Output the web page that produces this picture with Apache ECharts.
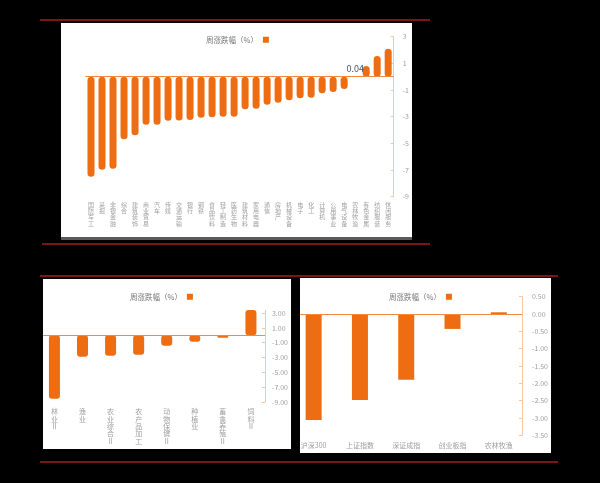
<!DOCTYPE html>
<html>
<head>
<meta charset="utf-8">
<script src="https://cdn.jsdelivr.net/npm/echarts@6/dist/echarts.min.js"></script>
<style>
  html, body { margin: 0; padding: 0; background: #000; }
  #page { position: relative; width: 600px; height: 483px; background: #000; overflow: hidden; }
  .rule { position: absolute; height: 2px; background: #7a1616; }
  .panel { position: absolute; background: #fff; overflow: hidden; }
  .chart { position: absolute; top: 0; }
</style>
</head>
<body>
<div id="page">
  <div class="rule" style="left:40px; top:19px; width:390px;"></div>
  <div class="panel" style="left:61px; top:23px; width:351px; height:214px; border-bottom:3px solid #5a5a5a;">
    <div id="c1" class="chart" style="left:0; width:351px; height:214px;"></div>
  </div>
  <div class="rule" style="left:42px; top:243px; width:388px;"></div>

  <div class="rule" style="left:40px; top:275px; width:518px;"></div>
  <div class="panel" style="left:43px; top:279px; width:248px; height:170px;">
    <div id="c2" class="chart" style="left:-10px; width:258px; height:170px;"></div>
  </div>
  <div class="panel" style="left:300px; top:278px; width:251px; height:175px;">
    <div id="c3" class="chart" style="left:-12px; width:263px; height:175px;"></div>
  </div>
  <div class="rule" style="left:40px; top:461px; width:518px;"></div>
</div>
<script>
// ---------- data ----------
const legendName = '周涨跌幅（%）';

const industryNames = ['休闲服务','纺织服装','有色金属','农林牧渔','电气设备','公用事业','计算机','化工','电子','机械设备','房地产','通信','家用电器','建筑材料','医药生物','轻工制造','食品饮料','钢铁','银行','交通运输','传媒','汽车','商业贸易','建筑装饰','综合','非银金融','采掘','国防军工'];
const industryValues = [2.1, 1.55, 0.8, 0.04, -0.92, -1.15, -1.25, -1.57, -1.62, -1.77, -1.95, -2.1, -2.4, -2.45, -3.0, -3.0, -3.05, -3.07, -3.25, -3.28, -3.3, -3.6, -3.6, -4.4, -4.7, -6.9, -6.97, -7.5];
const highlightName = '农林牧渔';
const industryTicks = [-9, -7, -5, -3, -1, 1, 3];

const subNames = ['饲料Ⅱ','畜禽养殖Ⅱ','种植业','动物保健Ⅱ','农产品加工','农业综合Ⅱ','渔业','林业Ⅱ'];
const subValues = [3.4, -0.34, -0.88, -1.4, -2.63, -2.76, -2.9, -8.56];
const subTicks = [-9, -7, -5, -3, -1, 1, 3];

const indexNames = ['农林牧渔','创业板指','深证成指','上证指数','沪深300'];
const indexValues = [0.05, -0.43, -1.9, -2.48, -3.06];

// ---------- style ----------
const FONT = '"Noto Sans CJK SC", "Noto Sans", sans-serif';
const BAR = '#EE6D12';
const ZERO_LINE = '#F08A3E';
const Y_LINE = '#F8C6A0';
const LABEL = '#a0a0a0';

function vertical(s) { return s.split('').join('\n'); }

function legendCfg(left, top) {
  return {
    data: [legendName], left: left, top: top, align: 'right',
    icon: 'rect', itemWidth: 6, itemHeight: 6, itemGap: 3,
    textStyle: { fontFamily: FONT, fontSize: 7.5, color: '#777' }
  };
}

const zeroLine = {
  silent: true, symbol: 'none', label: { show: false },
  lineStyle: { color: ZERO_LINE, type: 'solid', width: 1 },
  data: [{ yAxis: 0 }]
};

// ---------- chart 1 ----------
const c1 = echarts.init(document.getElementById('c1'));
c1.setOption({
  animation: false,
  textStyle: { fontFamily: FONT },
  legend: legendCfg(140, 8),
  grid: { left: 24.5, right: 18, top: 13.7, bottom: 40.3 },
  xAxis: {
    type: 'category', data: industryNames, inverse: true,
    axisLine: { show: false }, axisTick: { show: false },
    axisLabel: { interval: 0, margin: 5, fontSize: 6, lineHeight: 6.2, color: LABEL, fontFamily: FONT,
      formatter: vertical }
  },
  yAxis: {
    type: 'value', position: 'right', min: -9, max: 3,
    splitLine: { show: false },
    axisLine: { show: true, lineStyle: { color: Y_LINE } },
    axisTick: { show: true, inside: true, length: 3, lineStyle: { color: Y_LINE }, customValues: industryTicks },
    axisLabel: { customValues: industryTicks, margin: 9, fontSize: 7, color: LABEL, fontFamily: FONT }
  },
  series: [{
    name: legendName, type: 'bar', barWidth: 7,
    itemStyle: { color: BAR, borderRadius: 3.5 },
    markLine: zeroLine,
    data: industryValues.map((v, i) => industryNames[i] === highlightName
      ? { value: v, label: { show: true, position: 'top', distance: 3, color: '#44546a', fontSize: 9, fontFamily: FONT } }
      : v)
  }]
});

// ---------- chart 2 ----------
const c2 = echarts.init(document.getElementById('c2'));
c2.setOption({
  animation: false,
  textStyle: { fontFamily: FONT },
  legend: legendCfg(92, 9),
  grid: { left: 7.4, right: 25.3, top: 31.1, bottom: 47 },
  xAxis: {
    type: 'category', data: subNames, inverse: true,
    axisLine: { show: false }, axisTick: { show: false },
    axisLabel: { interval: 0, margin: 6, fontSize: 7, lineHeight: 7.3, color: LABEL, fontFamily: FONT,
      formatter: vertical }
  },
  yAxis: {
    type: 'value', position: 'right', min: -9, max: 3.4,
    splitLine: { show: false },
    axisLine: { show: true, lineStyle: { color: Y_LINE } },
    axisTick: { show: true, inside: true, length: 3, lineStyle: { color: Y_LINE }, customValues: subTicks },
    axisLabel: { customValues: subTicks, margin: 7, fontSize: 7, color: LABEL, fontFamily: FONT,
      formatter: v => v.toFixed(2) }
  },
  series: [{
    name: legendName, type: 'bar', barWidth: 11,
    itemStyle: { color: BAR, borderRadius: 3 },
    markLine: zeroLine,
    data: subValues
  }]
});

// ---------- chart 3 ----------
const c3 = echarts.init(document.getElementById('c3'));
c3.setOption({
  animation: false,
  textStyle: { fontFamily: FONT },
  legend: legendCfg(96, 10),
  grid: { left: 2.5, right: 27.7, top: 18.7, bottom: 17.7 },
  xAxis: {
    type: 'category', data: indexNames, inverse: true,
    axisLine: { show: false }, axisTick: { show: false },
    axisLabel: { interval: 0, margin: 7, fontSize: 7, color: LABEL, fontFamily: FONT }
  },
  yAxis: {
    type: 'value', position: 'right', min: -3.5, max: 0.5, interval: 0.5,
    splitLine: { show: false },
    axisLine: { show: true, lineStyle: { color: Y_LINE } },
    axisTick: { show: true, inside: true, length: 3, lineStyle: { color: Y_LINE } },
    axisLabel: { margin: 10, fontSize: 7, color: LABEL, fontFamily: FONT, formatter: v => v.toFixed(2) }
  },
  series: [{
    name: legendName, type: 'bar', barWidth: 16,
    itemStyle: { color: BAR },
    markLine: zeroLine,
    data: indexValues
  }]
});
</script>
</body>
</html>
